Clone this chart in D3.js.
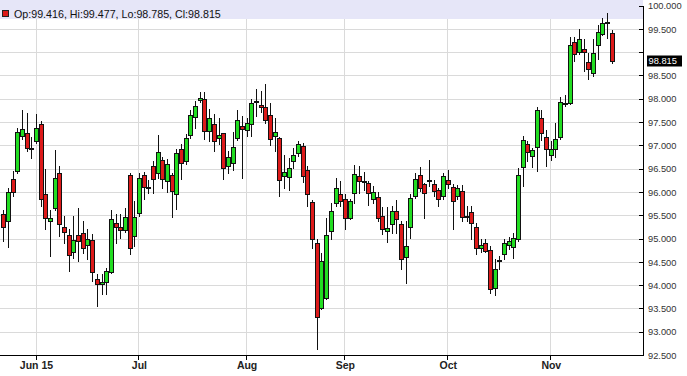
<!DOCTYPE html>
<html><head><meta charset="utf-8">
<script src="https://cdn.jsdelivr.net/npm/d3@7"></script>
<style>html,body{margin:0;padding:0;background:#fff;overflow:hidden}</style>
</head><body>
<svg id="chart" width="687" height="376"></svg>
<script>
// ---- DATA ----
const firstDay = "2015-05-21";
const lastDay = "2015-11-19";
const opens = [95.541,95.383,96.291,96.454,97.219,97.277,96.951,
97.097,97.470,95.955,95.391,95.670,96.420,95.254,95.083,94.727,95.083,95.134,94.862,94.976,94.148,94.026,94.084,94.298,95.348,95.263,95.183,96.368,95.061,
95.563,96.373,96.126,96.572,96.422,96.690,96.248,96.377,95.976,96.925,96.677,97.234,97.620,97.984,97.997,97.320,97.461,97.176,97.268,96.570,96.640,97.176,97.427,
97.341,97.476,97.962,97.883,97.834,97.669,97.204,97.170,96.347,96.334,96.683,96.848,97.005,96.475,95.798,94.905,93.527,93.741,95.168,95.777,95.955,
95.863,95.455,95.991,96.347,96.244,96.205,95.863,95.905,95.496,95.168,95.312,95.597,95.312,94.620,95.263,95.918,96.383,96.184,96.265,96.184,96.047,95.918,
96.276,96.120,95.918,96.025,95.483,95.584,95.263,94.808,94.920,94.761,93.956,94.551,94.669,94.862,94.834,95.006,96.548,97.037,96.780,96.977,97.600,97.191,
96.801,96.930,97.187,97.894,97.926,99.229,99.015,99.079,98.798,98.565,99.173,99.404,99.655,99.416];
const highs = [95.633,96.105,96.469,97.390,97.776,97.712,97.182,
97.684,97.540,96.512,95.633,96.919,96.561,95.490,95.205,95.490,95.670,95.383,95.205,95.098,94.241,94.241,94.384,95.633,95.526,95.526,95.655,96.426,95.811,
96.420,96.437,96.276,96.673,97.236,96.763,96.711,96.426,96.925,97.033,97.247,97.761,97.962,98.162,98.162,97.782,97.675,97.605,97.283,96.891,97.305,97.765,97.641,
97.590,97.997,98.215,98.168,98.333,97.920,97.598,97.197,96.812,96.741,96.955,97.097,97.069,96.576,95.833,94.991,94.706,95.441,95.777,96.313,96.240,
95.955,95.848,96.598,96.561,96.448,96.240,96.148,95.998,95.676,95.676,95.704,95.833,95.383,95.383,95.955,96.420,96.548,96.205,96.705,96.276,96.098,96.420,
96.475,96.190,96.169,96.169,95.704,95.704,95.348,94.991,94.991,94.847,94.562,94.633,95.005,95.034,95.134,96.527,97.208,97.097,96.955,97.825,97.776,97.341,
97.112,97.497,98.048,98.097,99.329,99.340,99.512,99.287,98.993,99.297,99.597,99.743,99.859,99.477];
const lows = [94.954,94.819,95.933,96.426,97.155,96.883,96.741,
97.069,95.704,95.205,94.633,95.633,95.061,94.920,94.311,94.598,94.526,94.706,94.562,94.097,93.561,93.812,93.812,94.262,94.920,95.027,95.141,94.684,94.847,
95.490,95.848,95.991,95.993,96.319,96.105,95.998,95.462,95.640,96.283,96.604,97.176,97.390,97.947,97.140,97.105,96.891,97.033,96.298,96.426,96.490,97.133,96.319,
97.212,97.212,97.637,97.733,97.497,97.026,96.883,95.918,96.098,96.062,96.527,96.790,96.233,95.704,94.813,92.634,93.491,93.705,94.991,95.698,95.704,
95.205,95.419,95.777,95.991,96.062,95.740,95.783,95.376,95.098,94.926,95.134,95.134,94.348,94.063,95.027,95.884,96.040,95.455,96.148,95.933,95.704,95.848,
96.105,95.205,95.869,95.376,95.376,94.991,94.669,94.712,94.712,93.848,93.791,94.348,94.562,94.776,94.598,94.963,96.137,96.668,96.555,96.458,97.118,96.566,
96.705,96.763,97.155,97.862,97.905,98.815,98.976,98.612,98.436,98.494,98.854,99.383,99.308,98.785];
const closes = [95.263,96.013,96.013,97.290,97.362,96.955,96.930,
97.384,95.848,95.455,95.455,96.313,95.312,95.156,94.648,94.976,94.954,94.813,94.991,94.298,94.041,94.084,94.311,95.434,95.263,95.183,95.468,94.798,95.477,
96.313,96.120,96.113,96.287,96.872,96.283,96.604,96.034,96.855,96.640,97.161,97.654,97.855,98.018,97.320,97.590,97.105,97.234,96.518,96.763,96.977,97.555,97.354,
97.482,97.926,97.952,97.834,97.547,97.148,97.298,96.276,96.433,96.527,96.805,97.041,96.347,95.976,95.006,93.334,94.526,95.083,95.597,96.098,95.811,
95.455,95.811,96.398,96.240,96.223,95.991,96.013,95.455,95.205,95.241,95.597,95.419,94.562,94.847,95.884,96.291,96.098,95.991,96.255,96.040,95.863,96.347,
96.184,95.811,96.098,95.473,95.471,95.333,94.813,94.862,94.740,93.934,94.363,94.541,94.920,94.948,95.027,96.383,97.118,96.872,96.913,97.776,97.279,96.934,
96.930,97.144,97.941,97.926,99.169,98.972,99.287,99.015,98.650,98.987,99.443,99.636,99.645,98.815];
const monthTickDates = ["2015-06-01","2015-07-01","2015-08-03","2015-09-01","2015-10-01","2015-11-02"];
const monthTickLabels = ["Jun 15","Jul","Aug","Sep","Oct","Nov"];
const priceTicks = [92.5,93,93.5,94,94.5,95,95.5,96,96.5,97,97.5,98,98.5,99,99.5,100];

// ---- LAYOUT ----
const plotRight = 643, plotBottom = 355.5, plotTop = 6;
const parse = d3.timeParse("%Y-%m-%d");
const fmtKey = d3.timeFormat("%Y-%m-%d");
const days = d3.timeDay.range(parse(firstDay), d3.timeDay.offset(parse(lastDay), 1))
  .filter(d => d.getDay() !== 0 && d.getDay() !== 6);
const candles = days.map((d, i) => ({date: d, o: opens[i], h: highs[i], l: lows[i], c: closes[i]}));
const idxOf = {}; days.forEach((d, i) => idxOf[fmtKey(d)] = i);

const x = d3.scaleLinear().domain([7, 117]).range([36, 550.8]);
const y = d3.scaleLinear().domain([92.5, 100]).range([plotBottom, plotTop]);
const px = v => Math.floor(v) + 0.5;

const svg = d3.select("#chart");
svg.append("rect").attr("width", 687).attr("height", 376).attr("fill", "#fff");

// grid
const grid = svg.append("g").attr("shape-rendering", "crispEdges");
grid.selectAll("line.h").data(priceTicks).join("line")
  .attr("x1", 0).attr("x2", plotRight).attr("y1", d => px(y(d))).attr("y2", d => px(y(d)))
  .attr("stroke", "#dadada");
grid.selectAll("line.v").data(monthTickDates).join("line")
  .attr("x1", d => px(x(idxOf[d]))).attr("x2", d => px(x(idxOf[d])))
  .attr("y1", 0).attr("y2", plotBottom).attr("stroke", "#dadada");

// header band
svg.append("rect").attr("x", 0).attr("y", 0).attr("width", plotRight).attr("height", 19)
  .attr("fill", "#e6e6f8");

// candles
const cg = svg.append("g").attr("shape-rendering", "crispEdges");
candles.forEach((d, i) => {
  const cx = Math.round(x(i));
  cg.append("line").attr("x1", cx + 0.5).attr("x2", cx + 0.5)
    .attr("y1", Math.round(y(d.h))).attr("y2", Math.round(y(d.l)) + 1)
    .attr("stroke", "#111").attr("stroke-width", 1);
  const top = Math.round(y(Math.max(d.o, d.c))) + 0.5;
  const bot = Math.round(y(Math.min(d.o, d.c))) + 0.5;
  cg.append("rect").attr("x", cx - 1.5).attr("y", top).attr("width", 4)
    .attr("height", Math.max(bot - top, 1))
    .attr("fill", d.c >= d.o ? "#22dd22" : "#dd1a1a")
    .attr("stroke", "#111").attr("stroke-width", 1);
});

// axes
const ax = svg.append("g").attr("shape-rendering", "crispEdges");
ax.append("line").attr("x1", plotRight + 0.5).attr("x2", plotRight + 0.5)
  .attr("y1", plotTop).attr("y2", px(plotBottom)).attr("stroke", "#000");
ax.append("line").attr("x1", 0).attr("x2", plotRight + 1)
  .attr("y1", px(plotBottom)).attr("y2", px(plotBottom)).attr("stroke", "#000");
ax.selectAll("line.yt").data(priceTicks).join("line")
  .attr("x1", plotRight - 4).attr("x2", plotRight)
  .attr("y1", d => px(y(d))).attr("y2", d => px(y(d))).attr("stroke", "#000");
ax.selectAll("line.xt").data(monthTickDates).join("line")
  .attr("x1", d => px(x(idxOf[d]))).attr("x2", d => px(x(idxOf[d])))
  .attr("y1", px(plotBottom)).attr("y2", px(plotBottom) + 4).attr("stroke", "#000");

const last = candles[candles.length - 1];
const f3 = d3.format(".3f");
svg.selectAll("text.yl").data(priceTicks.filter(d => Math.abs(y(d) - y(last.c)) > 10)).join("text")
  .attr("x", 648).attr("y", d => y(d)).attr("dy", "0.35em")
  .attr("font-family", "Liberation Sans, Arial, sans-serif").attr("font-size", 9.3)
  .attr("fill", "#333").text(d => f3(d));

svg.selectAll("text.xl").data(monthTickDates).join("text")
  .attr("x", d => x(idxOf[d]) + 0.5).attr("y", 369).attr("text-anchor", "middle")
  .attr("font-family", "Liberation Sans, Arial, sans-serif").attr("font-size", 10.5)
  .attr("font-weight", "bold").attr("fill", "#222")
  .text((d, i) => monthTickLabels[i]);

// last price label
svg.append("rect").attr("x", 647).attr("y", Math.round(y(last.c)) - 5.5).attr("width", 35).attr("height", 11)
  .attr("fill", "#000");
svg.append("text").attr("x", 648.5).attr("y", y(last.c)).attr("dy", "0.35em")
  .attr("font-family", "Liberation Sans, Arial, sans-serif").attr("font-size", 9.3)
  .attr("fill", "#fff").text(f3(last.c));

// header OHLC
svg.append("rect").attr("x", 2.5).attr("y", 10.5).attr("width", 6).attr("height", 6)
  .attr("fill", last.c >= last.o ? "#22dd22" : "#dd1a1a").attr("stroke", "#222")
  .attr("shape-rendering", "crispEdges");
svg.append("text").attr("x", 14).attr("y", 17.5)
  .attr("font-family", "Liberation Sans, Arial, sans-serif").attr("font-size", 10.7)
  .attr("fill", "#111")
  .text(`Op:${f3(last.o)}, Hi:${f3(last.h)}, Lo:${f3(last.l)}, Cl:${f3(last.c)}`);
</script>
</body></html>
